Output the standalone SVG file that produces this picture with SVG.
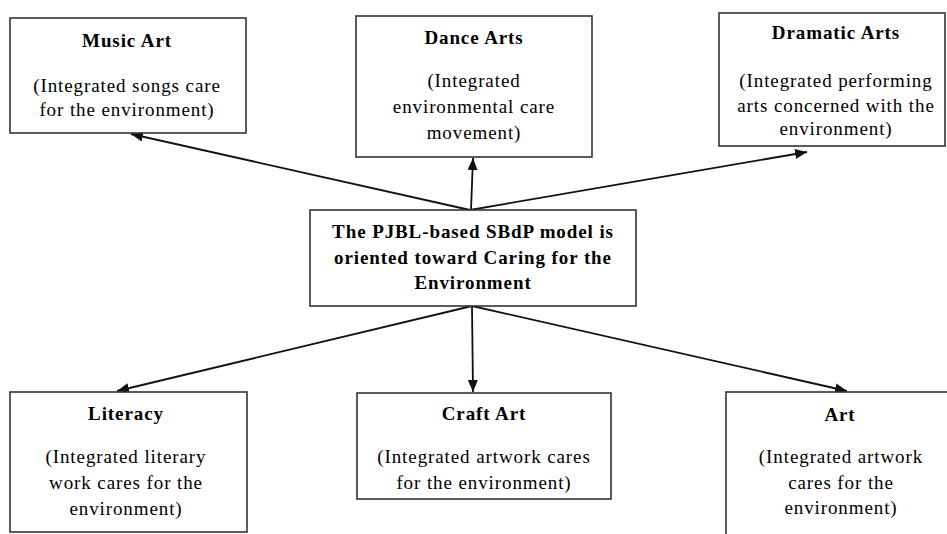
<svg xmlns="http://www.w3.org/2000/svg" width="947" height="534" viewBox="0 0 947 534">
<style>
.box{fill:#fff;stroke:#333;stroke-width:1.6}
.t{font-family:"Liberation Serif","Times New Roman",serif;font-size:19px;letter-spacing:0.9px;fill:#000;text-anchor:middle}
.b{font-weight:bold}
.c{stroke:#111;stroke-width:1.8;fill:none;marker-end:url(#ah)}
</style>
<defs>
<marker id="ah" markerWidth="14" markerHeight="12" refX="12" refY="5" orient="auto" markerUnits="userSpaceOnUse">
<path d="M0,0 L12,5 L0,10 Z" fill="#111"/>
</marker>
</defs>
<rect width="947" height="534" fill="#fff"/>
<g id="connectors">
<line class="c" x1="470" y1="210" x2="131" y2="134"/>
<line class="c" x1="471" y1="210" x2="473" y2="158"/>
<line class="c" x1="470" y1="210" x2="807" y2="152"/>
<line class="c" x1="472" y1="306" x2="117" y2="391"/>
<line class="c" x1="472" y1="306" x2="473" y2="392"/>
<line class="c" x1="472" y1="306" x2="847" y2="391"/>
</g>
<g id="music">
<rect class="box" x="10" y="18" width="236" height="115"/>
<text class="t b" x="127" y="47">Music Art</text>
<text class="t" x="127" y="92">(Integrated songs care</text>
<text class="t" x="127" y="116">for the environment)</text>
</g>
<g id="dance">
<rect class="box" x="356" y="16" width="236" height="141"/>
<text class="t b" x="474" y="44">Dance Arts</text>
<text class="t" x="474" y="87">(Integrated</text>
<text class="t" x="474" y="113">environmental care</text>
<text class="t" x="474" y="139">movement)</text>
</g>
<g id="dramatic">
<rect class="box" x="719" y="13" width="226" height="133"/>
<text class="t b" x="836" y="39">Dramatic Arts</text>
<text class="t" x="836" y="87">(Integrated performing</text>
<text class="t" x="836" y="112">arts concerned with the</text>
<text class="t" x="836" y="135">environment)</text>
</g>
<g id="center">
<rect class="box" x="310" y="210" width="326" height="96"/>
<text class="t b" x="473" y="238">The PJBL-based SBdP model is</text>
<text class="t b" x="473" y="264">oriented toward Caring for the</text>
<text class="t b" x="473" y="289">Environment</text>
</g>
<g id="literacy">
<rect class="box" x="10" y="392" width="237" height="140"/>
<text class="t b" x="126" y="420">Literacy</text>
<text class="t" x="126" y="463">(Integrated literary</text>
<text class="t" x="126" y="489">work cares for the</text>
<text class="t" x="126" y="515">environment)</text>
</g>
<g id="craft">
<rect class="box" x="357" y="393" width="254" height="106"/>
<text class="t b" x="484" y="420">Craft Art</text>
<text class="t" x="484" y="463">(Integrated artwork cares</text>
<text class="t" x="484" y="489">for the environment)</text>
</g>
<g id="art">
<rect class="box" x="726" y="392" width="240" height="160"/>
<text class="t b" x="840" y="421">Art</text>
<text class="t" x="841" y="463">(Integrated artwork</text>
<text class="t" x="841" y="489">cares for the</text>
<text class="t" x="841" y="514">environment)</text>
</g>
</svg>
